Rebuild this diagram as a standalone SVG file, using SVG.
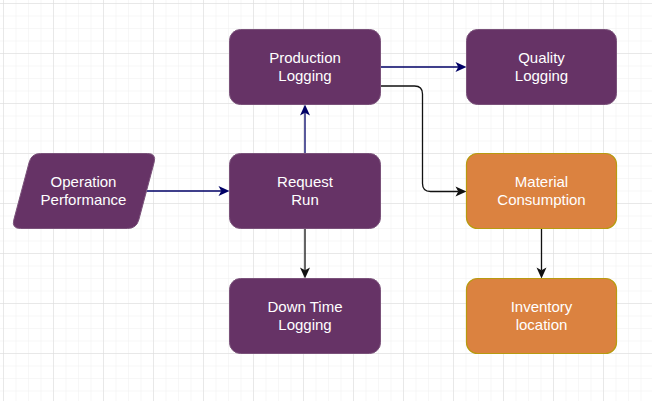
<svg xmlns="http://www.w3.org/2000/svg" width="652" height="401" viewBox="0 0 652 401">
<style>
.p{fill:#663366;stroke:#7a527a;stroke-width:1}
.o{fill:#db8240;stroke:#b89a10;stroke-width:1.2}
.t{font-family:"Liberation Sans",Arial,sans-serif;font-size:15px;fill:#ffffff;text-anchor:middle}
.n{fill:none;stroke:#000066;stroke-width:1.3}
.k{fill:none;stroke:#111111;stroke-width:1.3}
</style>
<defs>
<pattern id="minor" patternUnits="userSpaceOnUse" x="3" y="3" width="12.5" height="12.5">
<path d="M0,0 H12.5 M0,0 V12.5" stroke="#efefef" stroke-width="1" fill="none"/>
</pattern>
<pattern id="major" patternUnits="userSpaceOnUse" x="3" y="3" width="50" height="50">
<path d="M0,0 H50 M0,0 V50" stroke="#dadada" stroke-width="1" fill="none"/>
</pattern>
<marker id="an" markerUnits="userSpaceOnUse" markerWidth="11" markerHeight="10" refX="2.75" refY="5" orient="auto" overflow="visible">
<path d="M0,0 L11,5 L0,10 L2.75,5 Z" fill="#000066"/>
</marker>
<marker id="ak" markerUnits="userSpaceOnUse" markerWidth="11" markerHeight="10" refX="2.75" refY="5" orient="auto" overflow="visible">
<path d="M0,0 L11,5 L0,10 L2.75,5 Z" fill="#111111"/>
</marker>
</defs>
<rect width="652" height="401" fill="#ffffff"/>
<rect width="652" height="401" fill="url(#minor)"/>
<rect width="652" height="401" fill="url(#major)"/>

<g id="connectors">
<path class="n" d="M146.5,191 L221.25,191" marker-end="url(#an)"/>
<path class="n" d="M305,153.5 L305,112.75" marker-end="url(#an)"/>
<path class="n" d="M380.5,67 L458.25,67" marker-end="url(#an)"/>
<path class="k" d="M380.5,86 L414.5,86 Q422.5,86 422.5,94 L422.5,183.5 Q422.5,191.5 430.5,191.5 L458.25,191.5" marker-end="url(#ak)"/>
<path class="k" d="M305,228.5 L305,270.25" marker-end="url(#ak)"/>
<path class="k" d="M541.5,228.5 L541.5,270.25" marker-end="url(#ak)"/>
</g>

<g id="operation-performance">
<path class="p" d="M40.5,153.5 L147.5,153.5 Q156.5,153.5 154.18,162.19 L138.82,219.81 Q136.5,228.5 127.5,228.5 L20.5,228.5 Q11.5,228.5 13.82,219.81 L29.18,162.19 Q31.5,153.5 40.5,153.5 Z"/>
<text class="t" x="83.5" y="187">Operation</text>
<text class="t" x="83.5" y="205">Performance</text>
</g>

<g id="production-logging">
<rect class="p" x="229.5" y="29.5" width="151" height="75" rx="11" ry="11"/>
<text class="t" x="305" y="63">Production</text>
<text class="t" x="305" y="81">Logging</text>
</g>

<g id="quality-logging">
<rect class="p" x="466.5" y="29.5" width="150" height="75" rx="11" ry="11"/>
<text class="t" x="541.5" y="63">Quality</text>
<text class="t" x="541.5" y="81">Logging</text>
</g>

<g id="request-run">
<rect class="p" x="229.5" y="153.5" width="151" height="75" rx="11" ry="11"/>
<text class="t" x="305" y="187">Request</text>
<text class="t" x="305" y="205">Run</text>
</g>

<g id="material-consumption">
<rect class="o" x="466.5" y="153.5" width="150" height="75" rx="11" ry="11"/>
<text class="t" x="541.5" y="187">Material</text>
<text class="t" x="541.5" y="205">Consumption</text>
</g>

<g id="down-time-logging">
<rect class="p" x="229.5" y="278.5" width="151" height="75" rx="11" ry="11"/>
<text class="t" x="305" y="312">Down Time</text>
<text class="t" x="305" y="330">Logging</text>
</g>

<g id="inventory-location">
<rect class="o" x="466.5" y="278.5" width="150" height="75" rx="11" ry="11"/>
<text class="t" x="541.5" y="312">Inventory</text>
<text class="t" x="541.5" y="330">location</text>
</g>
</svg>
